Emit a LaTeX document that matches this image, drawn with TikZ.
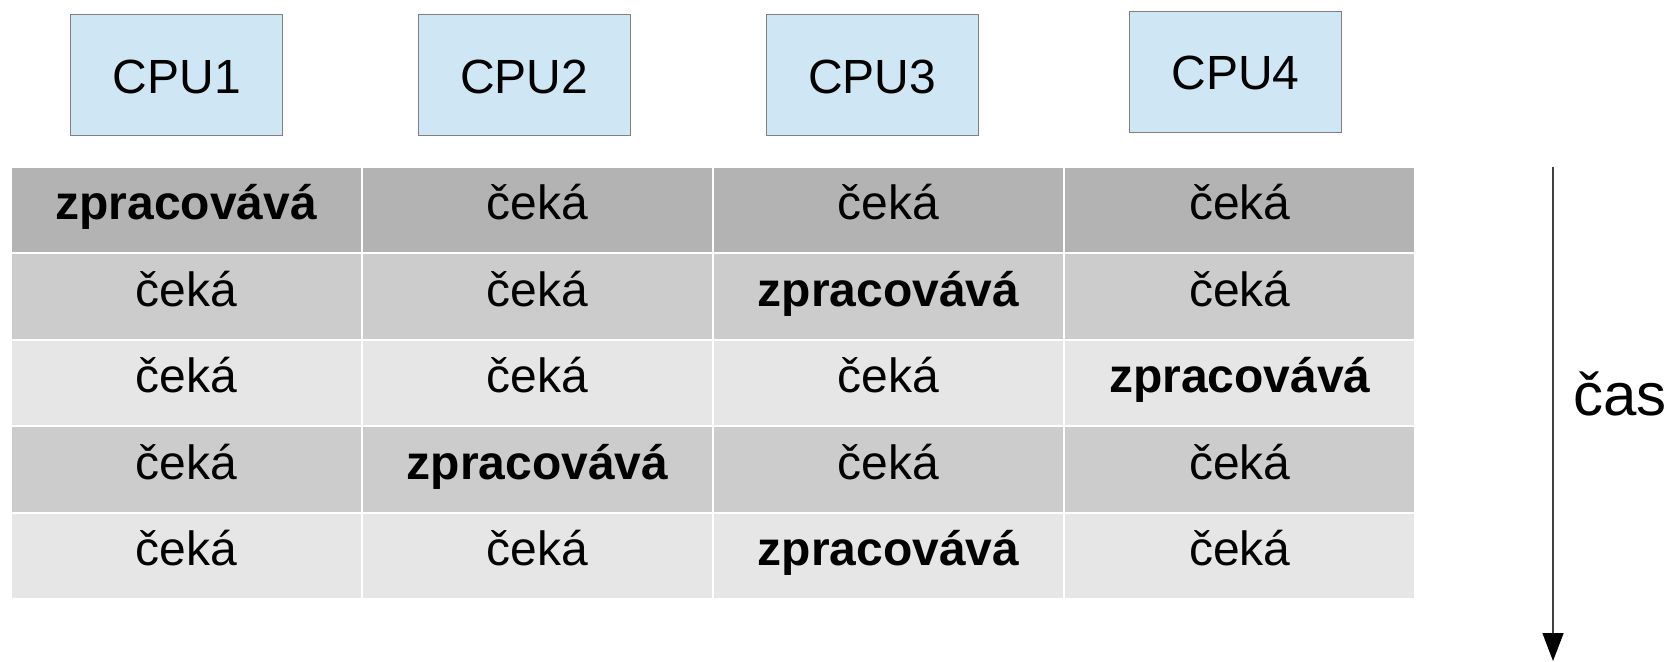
\documentclass[tikz,border=0pt]{standalone}
\usepackage{fontspec}
\setmainfont{Liberation Sans}
\usepackage{tikz}
\usetikzlibrary{positioning, arrows.meta}
\tikzset{
    >=Stealth
}

\begin{document}
\begin{tikzpicture}[x=0.5pt,y=-0.5pt]
  % colours (RGB, as in the slide)
  \definecolor{cpuColor}{RGB}{207,231,245}    % pale blue
  \definecolor{cpuBorder}{RGB}{128,128,128}   % grey frame
  \definecolor{darkRow}{RGB}{179,179,179}
  \definecolor{midRow}{RGB}{204,204,204}
  \definecolor{lightRow}{RGB}{230,230,230}

  % common styles
  \tikzset{
    cpu/.style={
      rectangle,
      draw=cpuBorder,
      line width=0.5pt,
      fill=cpuColor,
      minimum width=106pt,
      minimum height=60.5pt,
      inner sep=0pt,
      text height=17.8pt,
      text depth=0pt,
      font=\fontsize{24}{28}\selectfont
    },
    cell/.style={
      rectangle,
      draw=white,
      line width=1pt,
      minimum width=175.6pt,
      minimum height=43.25pt,
      inner sep=0pt,
      text height=14pt,
      text depth=4pt,
      font=\fontsize{24}{28}\selectfont
    },
    busy/.style={cell, font=\fontsize{24}{28}\selectfont\bfseries}
  }

  \useasboundingbox (0,0) rectangle (1674,661);

  % processors
  \node[cpu] (cpu1) at (176.7,75.3)  {CPU1};
  \node[cpu] (cpu2) at (524.3,75.3)  {CPU2};
  \node[cpu] (cpu3) at (872.3,75.3)  {CPU3};
  \node[cpu] (cpu4) at (1235.6,72.0) {CPU4};

  % time slots, one row per step
  \node[busy, fill=darkRow] (r1c1) at (186.3,209.75)  {zpracovává};
  \node[cell, fill=darkRow] (r1c2) at (537.5,209.75)  {čeká};
  \node[cell, fill=darkRow] (r1c3) at (888.6,209.75)  {čeká};
  \node[cell, fill=darkRow] (r1c4) at (1239.8,209.75) {čeká};

  \node[cell, fill=midRow] (r2c1) at (186.3,296.25)  {čeká};
  \node[cell, fill=midRow] (r2c2) at (537.5,296.25)  {čeká};
  \node[busy, fill=midRow] (r2c3) at (888.6,296.25)  {zpracovává};
  \node[cell, fill=midRow] (r2c4) at (1239.8,296.25) {čeká};

  \node[cell, fill=lightRow] (r3c1) at (186.3,382.75)  {čeká};
  \node[cell, fill=lightRow] (r3c2) at (537.5,382.75)  {čeká};
  \node[cell, fill=lightRow] (r3c3) at (888.6,382.75)  {čeká};
  \node[busy, fill=lightRow] (r3c4) at (1239.8,382.75) {zpracovává};

  \node[cell, fill=midRow] (r4c1) at (186.3,469.25)  {čeká};
  \node[busy, fill=midRow] (r4c2) at (537.5,469.25)  {zpracovává};
  \node[cell, fill=midRow] (r4c3) at (888.6,469.25)  {čeká};
  \node[cell, fill=midRow] (r4c4) at (1239.8,469.25) {čeká};

  \node[cell, fill=lightRow] (r5c1) at (186.3,555.75)  {čeká};
  \node[cell, fill=lightRow] (r5c2) at (537.5,555.75)  {čeká};
  \node[busy, fill=lightRow] (r5c3) at (888.6,555.75)  {zpracovává};
  \node[cell, fill=lightRow] (r5c4) at (1239.8,555.75) {čeká};

  % time axis
  \coordinate (timeTop) at (1553,166.5);
  \coordinate (timeEnd) at (1553,661);
  \draw[-{Triangle[length=14pt,width=10.5pt,color=black]}, line width=0.75pt, draw=black!75] (timeTop) -- (timeEnd);
  \node[anchor=base west, inner sep=0pt, font=\fontsize{30}{36}\selectfont] (timeLabel) at (1573,415) {čas};
\end{tikzpicture}
\end{document}
